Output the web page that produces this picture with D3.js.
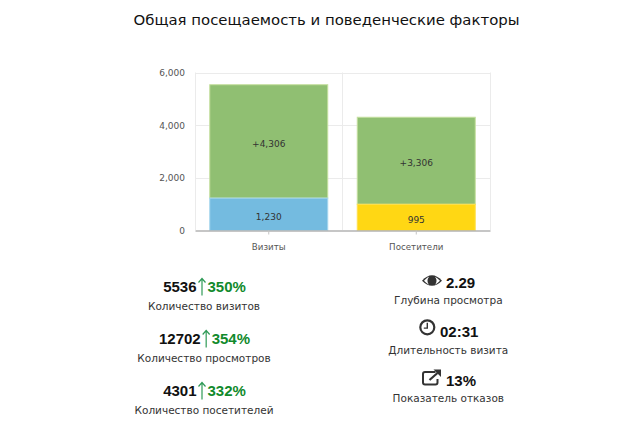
<!DOCTYPE html>
<html>
<head>
<meta charset="utf-8">
<script src="https://cdnjs.cloudflare.com/ajax/libs/d3/7.8.5/d3.min.js"></script>
<style>
html,body{margin:0;padding:0;background:#fff}
svg{display:block}
</style>
</head>
<body>
<svg id="chart" width="640" height="431"></svg>
<script>
const chartTitle = "Общая посещаемость и поведенческие факторы";
const categories = ["Визиты", "Посетители"];
const baseValues = [1230, 995];
const addedValues = [4306, 3306];
const baseColors = ["#74bbe0", "#ffd714"];
const addedColor = "#90bf72";
const yTicks = [0, 2000, 4000, 6000];

const leftStats = [
  {value: "5536", change: "350%", label: "Количество визитов"},
  {value: "12702", change: "354%", label: "Количество просмотров"},
  {value: "4301", change: "332%", label: "Количество посетителей"}
];
const rightStats = [
  {icon: "eye", value: "2.29", label: "Глубина просмотра"},
  {icon: "clock", value: "02:31", label: "Длительность визита"},
  {icon: "link", value: "13%", label: "Показатель отказов"}
];

const svg = d3.select("#chart");
const axisFont = "'DejaVu Sans', Verdana, sans-serif";
const numberFont = "'Liberation Sans', Arial, sans-serif";

svg.append("text")
  .attr("x", 326.5).attr("y", 25)
  .attr("text-anchor", "middle")
  .attr("font-family", axisFont).attr("font-size", 14.9)
  .attr("fill", "#111")
  .text(chartTitle);

const x = d3.scaleBand().domain(categories).range([195, 490]).paddingInner(0).paddingOuter(0);
const y = d3.scaleLinear().domain([0, 6000]).range([230.5, 72.5]);
const barWidth = x.bandwidth() * 0.8;
const barX = c => x(c) + (x.bandwidth() - barWidth) / 2;

// Gridlines and the plot frame
const grid = svg.append("g").attr("stroke", "#ebebeb").attr("stroke-width", 1).attr("fill", "none");
yTicks.filter(t => t > 0).forEach(t => {
  grid.append("line").attr("x1", 195).attr("x2", 490).attr("y1", Math.round(y(t)) + .5).attr("y2", Math.round(y(t)) + .5);
});
[195, 342, 490].forEach(px => {
  grid.append("line").attr("x1", px + .5).attr("x2", px + .5).attr("y1", 72.5).attr("y2", 230);
});

// Stacked columns
categories.forEach((c, i) => {
  const total = baseValues[i] + addedValues[i];
  svg.append("rect")
    .attr("x", barX(c)).attr("width", barWidth)
    .attr("y", y(total)).attr("height", y(baseValues[i]) - y(total))
    .attr("fill", addedColor).attr("stroke", "#c5e09f").attr("stroke-width", 1);
  svg.append("rect")
    .attr("x", barX(c)).attr("width", barWidth)
    .attr("y", y(baseValues[i])).attr("height", y(0) - y(baseValues[i]))
    .attr("fill", baseColors[i]).attr("stroke", i === 0 ? "#a5d6ee" : "#ffe04d").attr("stroke-width", 1);

  svg.append("text")
    .attr("x", x(c) + x.bandwidth() / 2).attr("y", (y(total) + y(baseValues[i])) / 2 + 5.5)
    .attr("text-anchor", "middle").attr("font-family", axisFont).attr("font-size", 9).attr("fill", "#333")
    .text("+" + d3.format(",")(addedValues[i]));
  svg.append("text")
    .attr("x", x(c) + x.bandwidth() / 2).attr("y", (y(0) + y(baseValues[i])) / 2 + 5.5)
    .attr("text-anchor", "middle").attr("font-family", axisFont).attr("font-size", 9).attr("fill", "#333")
    .text(d3.format(",")(baseValues[i]));
});

// Axes
const xAxis = d3.axisBottom(x).tickSizeInner(4).tickSizeOuter(0).tickPadding(9);
const gx = svg.append("g").attr("transform", "translate(0,230.5)").call(xAxis);
gx.select(".domain").attr("stroke", "#b3b3b3").attr("stroke-width", 1.5);
gx.selectAll(".tick line").attr("stroke", "#c4c4c4");
gx.selectAll("text").attr("font-family", axisFont).attr("font-size", 8.7).attr("fill", "#555");

const yAxis = d3.axisLeft(y).tickValues(yTicks).tickFormat(d3.format(",")).tickSize(0).tickPadding(10);
const gy = svg.append("g").attr("transform", "translate(195,0)").call(yAxis);
gy.select(".domain").remove();
gy.selectAll("text").attr("font-family", axisFont).attr("font-size", 9).attr("fill", "#555");

// Traffic figures with growth arrows
const leftRows = [291.5, 343.5, 395.5];
const leftLabelRows = [310, 362, 414];
leftStats.forEach((s, i) => {
  const row = svg.append("g");
  const t = row.append("text").attr("y", leftRows[i]).attr("font-family", numberFont)
    .attr("font-size", 15).attr("font-weight", "bold").attr("x", 0);
  t.append("tspan").attr("fill", "#111").text(s.value);
  t.append("tspan").attr("fill", "#118a2c").attr("dx", 11).text(s.change);
  const w = t.node().getComputedTextLength() + 11;
  const left = 204.5 - w / 2;
  t.attr("x", left);
  const numW = t.select("tspan").node().getComputedTextLength();
  const ax = left + numW + 5.5;
  const ay = leftRows[i];
  row.append("path")
    .attr("d", `M${ax},${ay + 4}V${ay - 13}M${ax - 3.5},${ay - 9}L${ax},${ay - 13}L${ax + 3.5},${ay - 9}`)
    .attr("fill", "none").attr("stroke", "#2f9a57").attr("stroke-width", 1.2);
  svg.append("text").attr("x", 204).attr("y", leftLabelRows[i])
    .attr("text-anchor", "middle").attr("font-family", axisFont).attr("font-size", 10.5).attr("fill", "#333")
    .text(s.label);
});

// Behaviour figures with pictograms
const iconDrawers = {
  eye(g, cx, cy) {
    g.append("path").attr("d", `M${cx - 10},${cy}Q${cx},${cy - 11} ${cx + 10},${cy}Q${cx},${cy + 10} ${cx - 10},${cy}Z`)
      .attr("fill", "#333");
    g.append("path").attr("d", `M${cx - 8},${cy}Q${cx - 4},${cy - 4} ${cx - 3},${cy - 4}Q${cx - 6},${cy} ${cx - 3},${cy + 4}Q${cx - 5},${cy + 3} ${cx - 8},${cy}Z`).attr("fill", "#fff");
    g.append("path").attr("d", `M${cx + 8},${cy}Q${cx + 5},${cy - 3} ${cx + 3},${cy - 4}Q${cx + 6},${cy} ${cx + 3},${cy + 4}Q${cx + 5},${cy + 3} ${cx + 8},${cy}Z`).attr("fill", "#fff");
    g.append("circle").attr("cx", cx).attr("cy", cy).attr("r", 3.6).attr("fill", "#333");
  },
  clock(g, cx, cy) {
    g.append("circle").attr("cx", cx).attr("cy", cy).attr("r", 7).attr("fill", "none").attr("stroke", "#333").attr("stroke-width", 2.2);
    g.append("path").attr("d", `M${cx},${cy - 4.5}V${cy + .8}H${cx - 3.5}`).attr("fill", "none").attr("stroke", "#333").attr("stroke-width", 1.4);
  },
  link(g, cx, cy) {
    g.append("path").attr("d", `M${cx + 4},${cy - 6}H${cx - 6.5}Q${cx - 8.5},${cy - 6} ${cx - 8.5},${cy - 4}V${cy + 4.5}Q${cx - 8.5},${cy + 6.5} ${cx - 6.5},${cy + 6.5}H${cx + 4}Q${cx + 6},${cy + 6.5} ${cx + 6},${cy + 4.5}V${cy + 1}`)
      .attr("fill", "none").attr("stroke", "#333").attr("stroke-width", 2);
    g.append("path").attr("d", `M${cx - 2},${cy + 2}L${cx + 6},${cy - 5}`).attr("stroke", "#333").attr("stroke-width", 2.2);
    g.append("path").attr("d", `M${cx + 2},${cy - 8.5}H${cx + 9.5}V${cy - 1}Z`).attr("fill", "#333");
  }
};
const rightRows = [287.5, 337, 385.5];
const iconOffsets = [[432, 280.7], [427.3, 327.3], [431.5, 378]];
const valueStarts = [446, 440, 446];
const labelRows = [304, 354, 402];
rightStats.forEach((s, i) => {
  const g = svg.append("g");
  iconDrawers[s.icon](g, iconOffsets[i][0], iconOffsets[i][1]);
  g.append("text").attr("x", valueStarts[i]).attr("y", rightRows[i])
    .attr("font-family", numberFont).attr("font-size", 15).attr("font-weight", "bold").attr("fill", "#111")
    .text(s.value);
  svg.append("text").attr("x", 448.3).attr("y", labelRows[i])
    .attr("text-anchor", "middle").attr("font-family", axisFont).attr("font-size", 10.5).attr("fill", "#333")
    .text(s.label);
});
</script>
</body>
</html>
